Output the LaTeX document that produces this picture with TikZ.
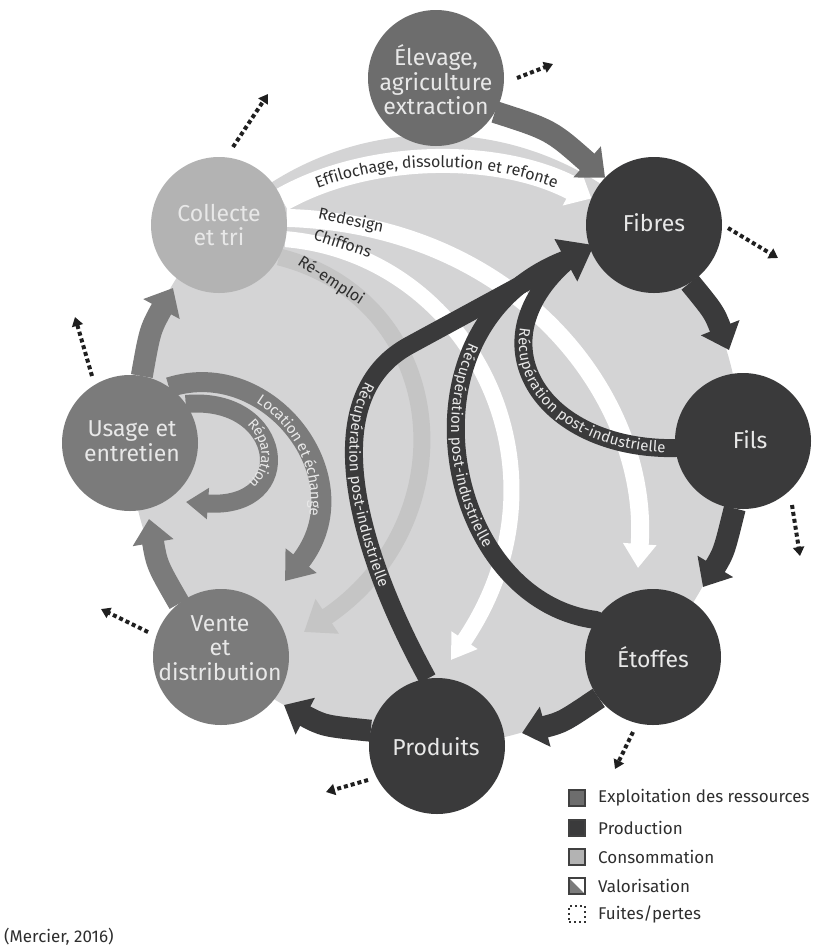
\documentclass[tikz,border=0pt]{standalone}
\usepackage{fontspec}
\setmainfont{Fira Sans}
\usetikzlibrary{arrows.meta,decorations.text}
\pgfdeclarelayer{back}
\pgfdeclarelayer{mid}
\pgfsetlayers{back,mid,main}
\definecolor{discgray}{HTML}{D4D4D5}
\definecolor{prodgray}{HTML}{3A3A3B}
\definecolor{exgray}{HTML}{6D6D6D}
\definecolor{consgray}{HTML}{7B7B7B}
\definecolor{collgray}{HTML}{B3B3B3}
\definecolor{reusegray}{HTML}{C5C5C5}
\definecolor{nodetext}{HTML}{E8E8E8}
\definecolor{inktext}{HTML}{2E2E2E}
\begin{document}
\begin{tikzpicture}[x=1pt,y=-1pt,
  stage/.style={circle,minimum size=136pt,inner sep=0pt,outer sep=0pt},
  stagetext/.style={align=center,text=nodetext,font=\fontsize{23}{24.5}\selectfont,inner sep=0pt},
  ring/.style={line width=22pt,-{Triangle[width=40pt,length=24pt]}},
  loss/.style={draw=black!88,line width=4pt,dash pattern=on 4pt off 3pt,-{Triangle[width=11pt,length=9pt]}},
  darkband/.style={draw=prodgray,line width=18pt},
  smalllab/.style={font=\fontsize{16}{16}\selectfont,text=inktext,inner sep=0pt},
  legsq/.style={draw=black!75,line width=1.2pt,minimum size=16pt,inner sep=0pt},
  legtext/.style={anchor=west,font=\fontsize{17}{17}\selectfont,text=inktext,inner sep=0pt}]
\useasboundingbox (0,0) rectangle (837,946);

% ---------- stages ----------
\node[stage,fill=exgray] (elev) at (436,78) {};
\node[stagetext] (elevT) at (436,80) {Élevage,\\agriculture\\extraction};
\node[stage,fill=collgray] (coll) at (219,225) {};
\node[stagetext] (collT) at (219,225) {Collecte\\et tri};
\node[stage,fill=prodgray] (fib) at (654,225) {};
\node[stagetext] (fibT) at (654,223) {Fibres};
\node[stage,fill=prodgray] (fil) at (743,441) {};
\node[stagetext] (filT) at (750,440) {Fils};
\node[stage,fill=prodgray] (eto) at (653,657) {};
\node[stagetext] (etoT) at (653,657) {Étoffes};
\node[stage,fill=prodgray] (prod) at (437,746) {};
\node[stagetext] (prodT) at (436,747) {Produits};
\node[stage,fill=consgray] (vente) at (221,657) {};
\node[stagetext] (venteT) at (220,648) {Vente\\et\\distribution};
\node[stage,fill=consgray] (usage) at (130,443) {};
\node[stagetext] (usageT) at (132,441) {Usage et\\entretien};

% ---------- free end points ----------
\coordinate (tW2) at (638,568);
\coordinate (tW3) at (451,660);
\coordinate (tRe) at (304,632);
\coordinate (tLoc) at (285,581);
\coordinate (tRep) at (186,502);
\coordinate (J) at (572,257);
\coordinate (Jin) at (520,285);
\coordinate (tD) at (594,245);
\coordinate (t2) at (729,350);
\coordinate (t3) at (703,587);
\coordinate (t4) at (522,733);
\coordinate (t5) at (284,705);
\coordinate (t6) at (149,519);
\coordinate (t7) at (173,288);

\begin{pgfonlayer}{back}
\node[circle,fill=discgray,minimum size=610pt,inner sep=0pt] (disc) at (435,440) {};
\end{pgfonlayer}

\begin{pgfonlayer}{mid}
% white recycling flows
\draw[white,line width=24pt,-{Triangle[width=38pt,length=22pt]}] (coll.22) .. controls (370,150) and (500,150) .. (fib.157);
\draw[white,line width=18pt,-{Triangle[width=32pt,length=24pt]}] (coll.6) .. controls (520,225) and (650,400) .. (tW2);
\draw[white,line width=16pt,-{Triangle[width=30pt,length=24pt]}] (coll.-12) .. controls (470,255) and (580,470) .. (tW3);
% re-use
\draw[reusegray,line width=17pt,-{Triangle[width=40pt,length=28pt]}] (coll.-28) .. controls (450,300) and (470,520) .. (tRe);
% location / reparation
\draw[consgray,line width=20pt,-{Triangle[width=38pt,length=26pt]}] (usage.55) .. controls (270,355) and (365,480) .. (tLoc);
\draw[consgray,line width=18pt,-{Triangle[width=30pt,length=22pt]}] (usage.35) .. controls (285,395) and (300,510) .. (tRep);
% post-industrial recovery
\draw[darkband] (prod.98) .. controls (357,550) and (313,397) .. (410,345) -- (J);
\draw[darkband,line cap=round] (eto.147) .. controls (440,600) and (390,320) .. (J);
\draw[darkband,line cap=round] (fil.186) .. controls (540,450) and (470,340) .. (J);
\draw[darkband,-{Triangle[width=46pt,length=32pt]}] (Jin) -- (tD);
% main cycle
\draw[ring,draw=exgray] (elev.-30) .. controls (551,130) .. (fib.136);
\draw[ring,draw=prodgray] (fib.-58) .. controls (714,312) .. (t2);
\draw[ring,draw=prodgray] (fil.-97) .. controls (724,552) .. (t3);
\draw[ring,draw=prodgray] (eto.-143) .. controls (563,722) .. (t4);
\draw[ring,draw=prodgray] (prod.167) .. controls (324,726) .. (t5);
\draw[ring,draw=consgray] (vente.128) .. controls (157,565) .. (t6);
\draw[ring,draw=consgray] (usage.80) .. controls (150,330) .. (t7);
\end{pgfonlayer}

% ---------- texts on flows ----------
\path[decorate,decoration={text along path,
  text={|\fontsize{16}{16}\selectfont\color{inktext}|Effilochage, dissolution et refonte},
  text align=center,raise=-5pt}]
  (coll.22) .. controls (370,150) and (500,150) .. (fib.157);
\node[smalllab,rotate=-12] (redesign) at (351,221) {Redesign};
\node[smalllab,rotate=-18] (chiffons) at (343,243) {Chiffons};
\node[smalllab,rotate=-33] (reemploi) at (331,281) {Ré-emploi};

\path[decorate,decoration={text along path,
  text={|\fontsize{15}{15}\selectfont\color{nodetext}|Récupération post-industrielle},
  text align={left,left indent=56pt},raise=-4.5pt}]
  (410,345) .. controls (313,397) and (357,550) .. (prod.98);
\path[decorate,decoration={text along path,
  text={|\fontsize{15}{15}\selectfont\color{nodetext}|Récupération post-industrielle},
  text align=center,raise=-4.5pt}]
  (J) .. controls (390,320) and (440,600) .. (eto.147);
\path[decorate,decoration={text along path,
  text={|\fontsize{15}{15}\selectfont\color{nodetext}|Récupération post-industrielle},
  text align={right,right indent=10pt},raise=-4.5pt}]
  (J) .. controls (470,340) and (540,450) .. (fil.186);
\path[decorate,decoration={text along path,
  text={|\fontsize{15}{15}\selectfont\color{nodetext}|Location et échange},
  text align={left,left indent=93pt},raise=-4.5pt}]
  (usage.55) .. controls (270,355) and (365,480) .. (tLoc);
\path[decorate,decoration={text along path,
  text={|\fontsize{14.5}{14.5}\selectfont\color{nodetext}|Réparation},
  text align=center,raise=-4.5pt}]
  (usage.35) .. controls (285,395) and (300,510) .. (tRep);

% ---------- losses ----------
\coordinate (l1a) at (517,78);  \coordinate (l1b) at (553,64);
\coordinate (l2a) at (233,147); \coordinate (l2b) at (268,94);
\coordinate (l3a) at (728,228); \coordinate (l3b) at (778,258);
\coordinate (l4a) at (792,505); \coordinate (l4b) at (800,556);
\coordinate (l5a) at (633,732); \coordinate (l5b) at (615,769);
\coordinate (l6a) at (368,780); \coordinate (l6b) at (326,792);
\coordinate (l7a) at (148,632); \coordinate (l7b) at (101,609);
\coordinate (l8a) at (92,376);  \coordinate (l8b) at (75,317);
\foreach \i in {1,...,8} {\draw[loss] (l\i a) -- (l\i b);}

% ---------- legend ----------
\node[legsq,fill=exgray] (lg1) at (577,798) {};
\node[legtext] (lt1) at (598,798) {Exploitation des ressources};
\node[legsq,fill=prodgray] (lg2) at (577,828) {};
\node[legtext] (lt2) at (598,828) {Production};
\node[legsq,fill=collgray] (lg3) at (577,857) {};
\node[legtext] (lt3) at (598,857) {Consommation};
\node[legsq,fill=white] (lg4) at (577,886) {};
\fill[consgray] (lg4.north west) -- (lg4.south west) -- (lg4.south east) -- cycle;
\node[legsq] (lg4b) at (577,886) {};
\node[legtext] (lt4) at (598,886) {Valorisation};
\node[legsq,draw=black!80,dash pattern=on 2pt off 3pt,line width=2pt] (lg5) at (577,914) {};
\node[legtext] (lt5) at (598,914) {Fuites/pertes};

\node[anchor=west,font=\fontsize{17}{17}\selectfont,text=inktext,inner sep=0pt] (src) at (4,937) {(Mercier, 2016)};
\end{tikzpicture}
\end{document}
